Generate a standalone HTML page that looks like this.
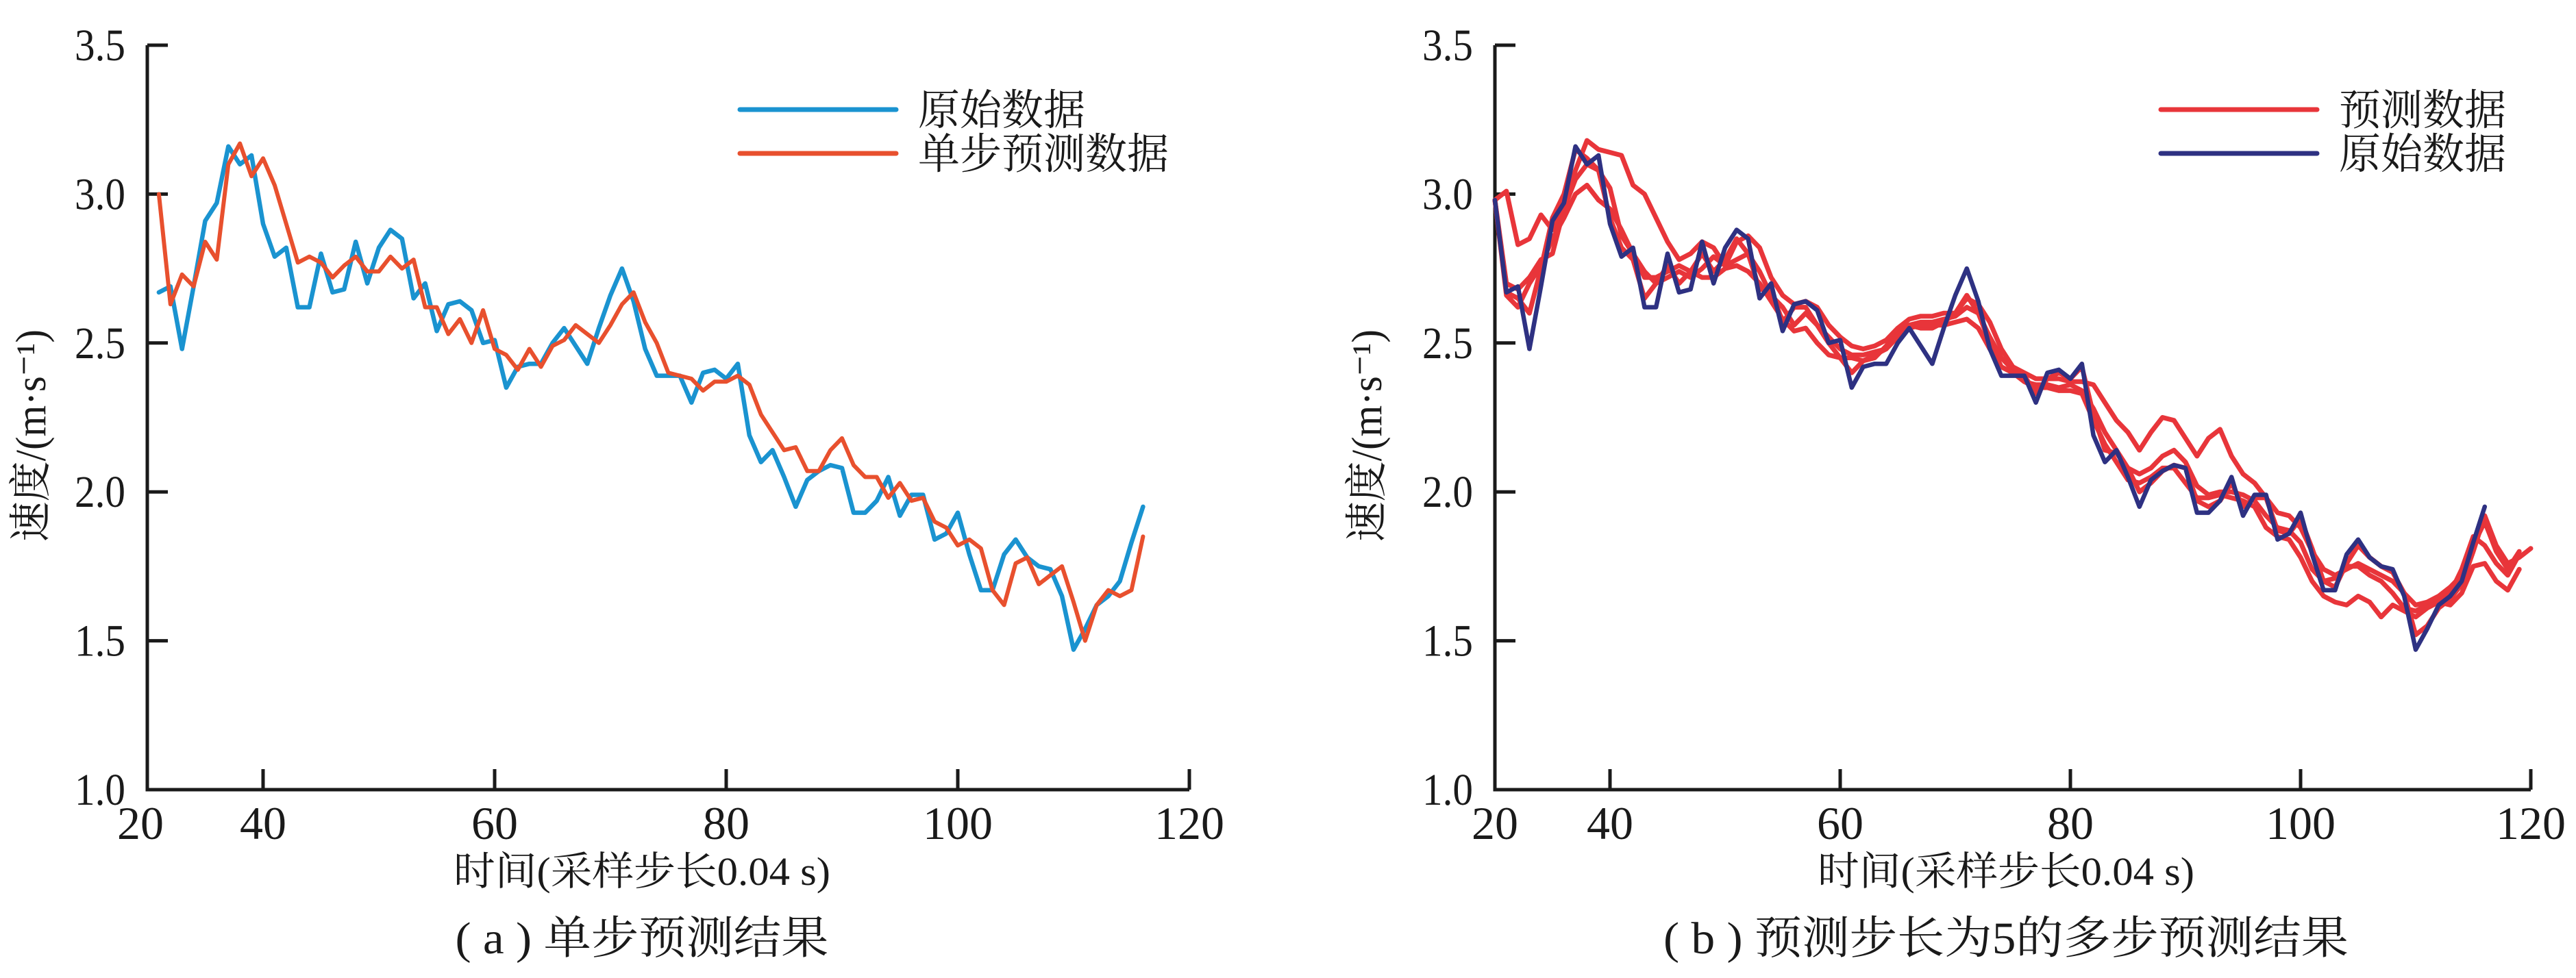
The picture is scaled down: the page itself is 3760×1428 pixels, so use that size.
<!DOCTYPE html>
<html><head><meta charset="utf-8"><style>
html,body{margin:0;padding:0;background:#fff;}
svg{display:block;}
text{fill:#1a1a1a;}
.num{font-family:"Liberation Serif","Noto Serif CJK SC",serif;}
.cjk{font-family:"Liberation Serif","Noto Serif CJK SC","Noto Sans CJK SC",serif;}
</style></head><body>
<svg id="fig" width="3760" height="1428" viewBox="0 0 3760 1428" xmlns="http://www.w3.org/2000/svg">
<g id="pa"></g>
<g id="pb"></g>
</svg>
<script>
const xTicks = [40, 60, 80, 100, 120];
const yTicks = [1.5, 2.0, 2.5, 3.0, 3.5];
const yTickLabels = ["1.5", "2.0", "2.5", "3.0", "3.5"];
const xTickLabels = ["40", "60", "80", "100", "120"];
const originalStartA = 31;
const originalA = [2.67,2.69,2.48,2.69,2.91,2.97,3.16,3.10,3.13,2.90,2.79,2.82,2.62,2.62,2.80,2.67,2.68,2.84,2.70,2.82,2.88,2.85,2.65,2.70,2.54,2.63,2.64,2.61,2.50,2.51,2.35,2.42,2.43,2.43,2.50,2.55,2.49,2.43,2.55,2.66,2.75,2.64,2.48,2.39,2.39,2.39,2.30,2.40,2.41,2.38,2.43,2.19,2.10,2.14,2.05,1.95,2.04,2.07,2.09,2.08,1.93,1.93,1.97,2.05,1.92,1.99,1.99,1.84,1.86,1.93,1.79,1.67,1.67,1.79,1.84,1.78,1.75,1.74,1.65,1.47,1.54,1.62,1.65,1.70,1.83,1.95];
const singleStepStart = 31;
const singleStep = [3.00,2.63,2.73,2.69,2.84,2.78,3.10,3.17,3.06,3.12,3.03,2.90,2.77,2.79,2.77,2.72,2.76,2.79,2.74,2.74,2.79,2.75,2.78,2.62,2.62,2.53,2.58,2.50,2.61,2.48,2.46,2.41,2.48,2.42,2.49,2.51,2.56,2.53,2.50,2.56,2.63,2.67,2.57,2.50,2.40,2.39,2.38,2.34,2.37,2.37,2.39,2.36,2.26,2.20,2.14,2.15,2.07,2.07,2.14,2.18,2.09,2.05,2.05,1.98,2.03,1.97,1.98,1.90,1.88,1.82,1.84,1.81,1.67,1.62,1.76,1.78,1.69,1.72,1.75,1.63,1.50,1.62,1.67,1.65,1.67,1.85];
const originalStartB = 30;
const originalB = [2.98,2.67,2.69,2.48,2.69,2.91,2.97,3.16,3.10,3.13,2.90,2.79,2.82,2.62,2.62,2.80,2.67,2.68,2.84,2.70,2.82,2.88,2.85,2.65,2.70,2.54,2.63,2.64,2.61,2.50,2.51,2.35,2.42,2.43,2.43,2.50,2.55,2.49,2.43,2.55,2.66,2.75,2.64,2.48,2.39,2.39,2.39,2.30,2.40,2.41,2.38,2.43,2.19,2.10,2.14,2.05,1.95,2.04,2.07,2.09,2.08,1.93,1.93,1.97,2.05,1.92,1.99,1.99,1.84,1.86,1.93,1.79,1.67,1.67,1.79,1.84,1.78,1.75,1.74,1.65,1.47,1.54,1.62,1.65,1.70,1.83,1.95];
const predStart = 30;
const pred1 = [2.98,2.67,2.65,2.60,2.75,2.92,3.00,3.15,3.12,3.08,2.92,2.82,2.78,2.65,2.70,2.76,2.70,2.74,2.80,2.74,2.78,2.85,2.80,2.68,2.68,2.57,2.62,2.62,2.56,2.50,2.45,2.40,2.44,2.45,2.49,2.54,2.56,2.55,2.55,2.57,2.60,2.66,2.60,2.50,2.42,2.40,2.39,2.33,2.38,2.40,2.38,2.42,2.26,2.14,2.13,2.08,2.00,2.03,2.07,2.09,2.08,1.97,1.95,1.97,2.03,1.95,1.98,1.98,1.87,1.86,1.91,1.81,1.70,1.68,1.76,1.82,1.78,1.75,1.73,1.66,1.52,1.55,1.61,1.64,1.69,1.80,1.92,1.82,1.76,1.78,1.81];
const pred2 = [2.98,2.70,2.68,2.72,2.78,2.80,2.95,3.05,3.10,3.08,3.02,2.86,2.80,2.74,2.70,2.72,2.74,2.72,2.75,2.79,2.76,2.78,2.80,2.74,2.66,2.62,2.56,2.60,2.56,2.52,2.48,2.46,2.46,2.47,2.48,2.53,2.56,2.57,2.57,2.58,2.59,2.62,2.60,2.52,2.45,2.41,2.37,2.36,2.36,2.35,2.36,2.34,2.28,2.20,2.14,2.08,2.06,2.08,2.12,2.14,2.10,2.02,1.99,2.00,2.00,1.99,1.97,1.92,1.88,1.87,1.83,1.74,1.70,1.71,1.75,1.75,1.72,1.70,1.66,1.61,1.60,1.62,1.64,1.66,1.74,1.85,1.82,1.76,1.72,1.79];
const pred3 = [2.98,3.01,2.83,2.85,2.93,2.88,2.95,3.08,3.18,3.15,3.14,3.13,3.03,3.00,2.92,2.84,2.78,2.80,2.84,2.82,2.76,2.84,2.86,2.82,2.72,2.66,2.63,2.64,2.62,2.56,2.52,2.49,2.48,2.49,2.51,2.55,2.58,2.59,2.59,2.60,2.60,2.65,2.63,2.57,2.48,2.42,2.40,2.38,2.38,2.38,2.37,2.37,2.36,2.30,2.24,2.20,2.14,2.20,2.25,2.24,2.18,2.12,2.18,2.21,2.12,2.06,2.03,1.98,1.93,1.92,1.88,1.80,1.74,1.72,1.74,1.76,1.74,1.72,1.70,1.66,1.62,1.63,1.65,1.68,1.72,1.82,1.90,1.80,1.74,1.80];
const pred4 = [2.98,2.66,2.62,2.70,2.76,2.85,2.92,3.00,3.03,2.98,2.95,2.88,2.80,2.72,2.72,2.74,2.76,2.74,2.72,2.72,2.75,2.76,2.74,2.70,2.64,2.58,2.54,2.55,2.50,2.46,2.45,2.45,2.44,2.46,2.48,2.52,2.55,2.56,2.56,2.56,2.57,2.58,2.55,2.48,2.42,2.40,2.37,2.35,2.35,2.34,2.34,2.33,2.24,2.16,2.10,2.04,2.03,2.05,2.08,2.08,2.03,1.98,1.98,1.99,1.98,1.97,1.95,1.88,1.85,1.84,1.78,1.70,1.65,1.63,1.62,1.65,1.63,1.58,1.62,1.60,1.58,1.61,1.63,1.62,1.66,1.75,1.76,1.70,1.67,1.74];

const NS = "http://www.w3.org/2000/svg";
function mk(parent, tag, attrs, txt) {
  const e = document.createElementNS(NS, tag);
  for (const k in attrs) e.setAttribute(k, attrs[k]);
  if (txt !== undefined) e.textContent = txt;
  parent.appendChild(e);
  return e;
}

function panel(g, cfg) {
  const xs = v => cfg.x40 + (v - 40) * cfg.unit;
  const ys = v => cfg.y1 - (v - 1) * cfg.yUnit;
  const axisL = xs(30), axisR = xs(120), axisB = ys(1), axisT = ys(3.5);
  const ax = mk(g, 'path', {d: `M${axisL},${axisT} L${axisL},${axisB} L${axisR},${axisB}`, fill: 'none', stroke: '#1a1a1a', 'stroke-width': 5});
  
  
  xTicks.forEach((t, i) => {
    const tk = mk(g, 'line', {x1: xs(t), x2: xs(t), y1: axisB, y2: axisB - 30, stroke: '#1a1a1a', 'stroke-width': 5});
    
    
    const lb = mk(g, 'text', {x: xs(t), y: axisB + 72, 'text-anchor': 'middle', class: 'num', 'font-size': 68}, xTickLabels[i]);
    
    
  });
  const l20 = mk(g, 'text', {x: axisL + cfg.x20off, y: axisB + 72, 'text-anchor': 'middle', class: 'num', 'font-size': 68}, '20');
  
  
  yTicks.forEach((t, i) => {
    const tk = mk(g, 'line', {x1: axisL, x2: axisL + 30, y1: ys(t), y2: ys(t), stroke: '#1a1a1a', 'stroke-width': 5});
    
    
    const lb = mk(g, 'text', {x: axisL - 32, y: ys(t) + 22, 'text-anchor': 'end', class: 'num', 'font-size': 66, textLength: 74, lengthAdjust: 'spacingAndGlyphs'}, yTickLabels[i]);
    
    
  });
  const l10 = mk(g, 'text', {x: axisL - 32, y: axisB + 22, 'text-anchor': 'end', class: 'num', 'font-size': 66, textLength: 74, lengthAdjust: 'spacingAndGlyphs'}, '1.0');
  
  

  cfg.series.forEach(s => {
    const d = s.vals.map((v, i) => (i ? 'L' : 'M') + xs(s.start + i).toFixed(1) + ',' + ys(v).toFixed(1)).join(' ');
    const p = mk(g, 'path', {d: d, fill: 'none', stroke: s.color, 'stroke-width': s.w, 'stroke-linejoin': 'round', 'stroke-linecap': 'round'});
    
    
  });

  cfg.legend.forEach((e, i) => {
    const y = 160 + i * 64;
    const ln = mk(g, 'line', {x1: cfg.legX, x2: cfg.legX + 228, y1: y, y2: y, stroke: e.color, 'stroke-width': 7, 'stroke-linecap': 'round'});
    
    
    const tx = mk(g, 'text', {x: cfg.legX + 260, y: y + 22, class: 'cjk', 'font-size': 62, textLength: e.text.length * 61, lengthAdjust: 'spacingAndGlyphs'}, e.text);
    
    
  });

  const xt = mk(g, 'text', {x: cfg.titleX, y: 1292, 'text-anchor': 'middle', class: 'cjk', 'font-size': 58, textLength: 550, lengthAdjust: 'spacingAndGlyphs'}, '时间(采样步长0.04 s)');
  
  
  const yt = mk(g, 'text', {x: 0, y: 0, 'text-anchor': 'middle', class: 'cjk', 'font-size': 62, textLength: 310, lengthAdjust: 'spacingAndGlyphs', transform: `translate(${cfg.yTitleX},636) rotate(-90)`}, '速度/(m·s⁻¹)');
  
  
  const cap = mk(g, 'text', {x: cfg.titleX, y: 1392, 'text-anchor': 'middle', class: 'cjk', 'font-size': 66, textLength: cfg.capLen, lengthAdjust: 'spacingAndGlyphs'}, cfg.caption);
  
  
}

panel(document.getElementById('pa'), {
  x40: 384, unit: 16.9, y1: 1153, yUnit: 434.8, x20off: -10,
  legX: 1080, titleX: 937, yTitleX: 66, capLen: 545,
  caption: '( a ) 单步预测结果',
  series: [
    {name: 'original-data-line', vals: originalA, start: originalStartA, color: '#1a93d0', w: 6.5},
    {name: 'single-step-prediction-line', vals: singleStep, start: singleStepStart, color: '#e8502e', w: 6}
  ],
  legend: [{text: '原始数据', color: '#1a93d0'}, {text: '单步预测数据', color: '#e8502e'}]
});
panel(document.getElementById('pb'), {
  x40: 2350, unit: 16.8, y1: 1153, yUnit: 434.8, x20off: 0,
  legX: 3154, titleX: 2928, yTitleX: 2016, capLen: 1000,
  caption: '( b ) 预测步长为5的多步预测结果',
  series: [
    {name: 'prediction-line-1', vals: pred1, start: predStart, color: '#e8353a', w: 7},
    {name: 'prediction-line-2', vals: pred2, start: predStart, color: '#e8353a', w: 7},
    {name: 'prediction-line-3', vals: pred3, start: predStart, color: '#e8353a', w: 7},
    {name: 'prediction-line-4', vals: pred4, start: predStart, color: '#e8353a', w: 7},
    {name: 'original-data-line', vals: originalB, start: originalStartB, color: '#2e3182', w: 6.5}
  ],
  legend: [{text: '预测数据', color: '#e8353a'}, {text: '原始数据', color: '#2e3182'}]
});
</script>
</body></html>
